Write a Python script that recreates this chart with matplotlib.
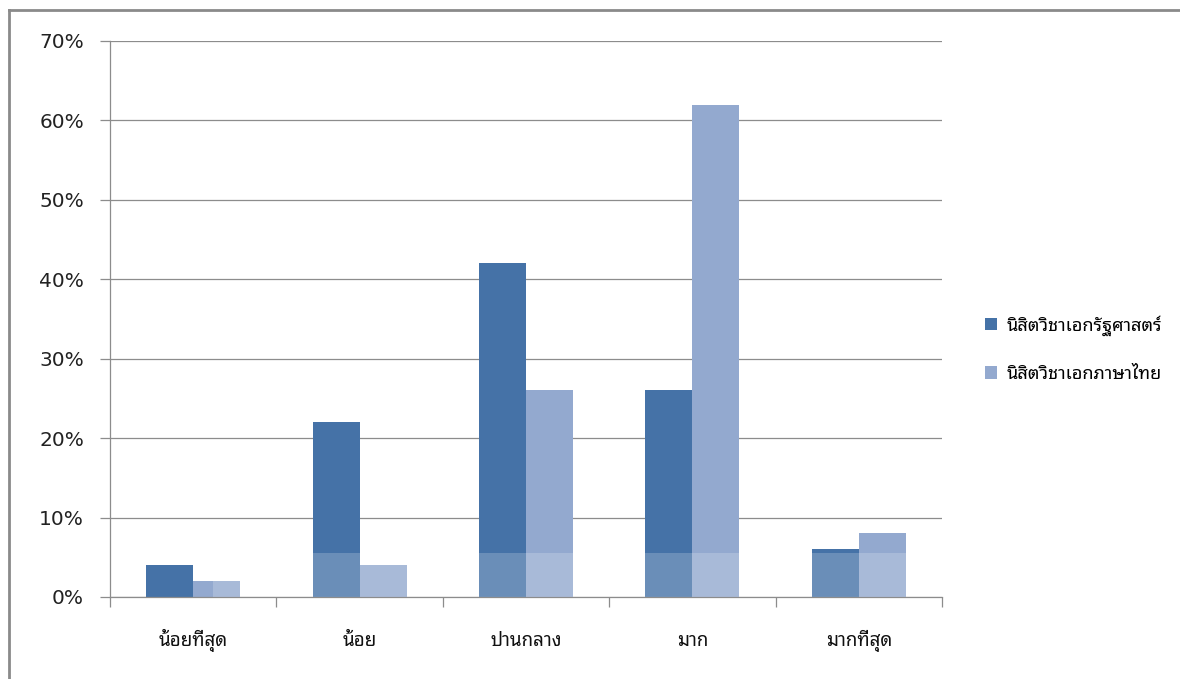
import matplotlib
matplotlib.use("Agg")
import matplotlib.pyplot as plt
import numpy as np
from matplotlib.lines import Line2D
from matplotlib.patches import Patch

# Response levels and share of students in each group (percent)
categories = ["น้อยที่สุด", "น้อย", "ปานกลาง", "มาก", "มากที่สุด"]
series_names = ["นิสิตวิชาเอกรัฐศาสตร์", "นิสิตวิชาเอกภาษาไทย"]
political_science = [4, 22, 42, 26, 6]
thai_language = [2, 4, 26, 62, 8]
y_ticks = [0, 10, 20, 30, 40, 50, 60, 70]

THAI = ["Noto Sans Thai Looped", "DejaVu Sans"]
DARK = "#4572A7"
LIGHT = "#93A9CF"
GRID = "#8C8C8C"

fig = plt.figure(figsize=(11.8, 6.79), dpi=100)
ax = fig.add_axes([110 / 1180, 1 - 597 / 679, 832 / 1180, 556 / 679])

x = np.arange(len(categories))
w = 0.2825
ax.bar(x - w / 2, political_science, width=w, color=DARK, zorder=2)
ax.bar(x + w / 2, thai_language, width=w, color=LIGHT, zorder=2)

# pale band across the lower part of the plot
ax.axhspan(0, 5.5, xmin=0.124, xmax=1.0, color="white", alpha=0.2, lw=0, zorder=3)

ax.set_xlim(-0.5, len(categories) - 0.5)
ax.set_ylim(0, 70)

ax.set_yticks(y_ticks)
ax.set_yticklabels([f"{v}%" for v in y_ticks])
ax.yaxis.grid(True, color=GRID, lw=0.9, zorder=1)
ax.set_axisbelow(True)
ax.tick_params(axis="y", length=7.2, width=0.9, color=GRID, pad=11.5,
               labelsize=14.5, labelcolor="#222222")

# category boundaries as ticks, names centred between them
ax.set_xticks(np.arange(len(categories) + 1) - 0.5)
ax.set_xticklabels([])
ax.set_xticks(x, minor=True)
ax.set_xticklabels(categories, minor=True, fontfamily=THAI, fontsize=13.5)
ax.tick_params(axis="x", which="major", length=7.5, width=0.9, color=GRID)
ax.tick_params(axis="x", which="minor", length=0, pad=35, labelcolor="#111111")
for lab in ax.get_xticklabels(minor=True):
    lab.set_verticalalignment("baseline")

for side in ("top", "right"):
    ax.spines[side].set_visible(False)
for side in ("left", "bottom"):
    ax.spines[side].set_color(GRID)
    ax.spines[side].set_linewidth(0.9)

handles = [Patch(facecolor=DARK, edgecolor="none"), Patch(facecolor=LIGHT, edgecolor="none")]
fig.legend(handles, series_names, loc="center left",
           bbox_to_anchor=(978 / 1180, 1 - 349 / 679), frameon=False,
           prop={"family": THAI, "size": 13}, handlelength=0.67, handleheight=0.67,
           handletextpad=0.5, labelspacing=1.6, borderaxespad=0, borderpad=0.4)

# outer frame
frame_kw = dict(color="#8A8A8A", lw=2.0, transform=fig.transFigure)
fig.add_artist(Line2D([9 / 1180, 9 / 1180], [1 - 10 / 679, 0], **frame_kw))
fig.add_artist(Line2D([9 / 1180, 1], [1 - 10 / 679, 1 - 10 / 679], **frame_kw))

fig.savefig("out.png", dpi=100)
